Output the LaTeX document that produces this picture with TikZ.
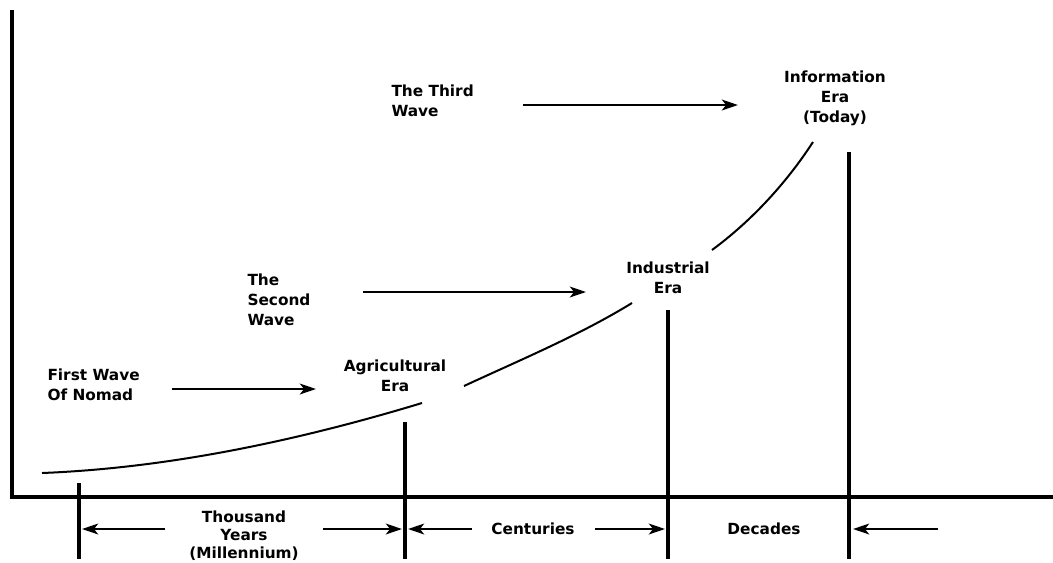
\documentclass[tikz,border=0pt]{standalone}
\usepackage{fontspec}
\setmainfont{DejaVu Sans}
\usetikzlibrary{arrows.meta}

\tikzset{every picture/.style={line width=0.75pt}}
\tikzset{
  axisline/.style={line width=2.6pt},
  tickline/.style={line width=2.3pt},
  growth/.style={line width=1.5pt},
  wavearrow/.style={line width=2pt,-{Stealth[length=12pt,width=8pt,inset=3pt]}},
  lbl/.style={font=\fontsize{11.5}{15}\selectfont\bfseries,inner sep=0pt},
  spanlbl/.style={font=\fontsize{11.5}{13.5}\selectfont\bfseries,inner sep=0pt,align=center}
}

\begin{document}
\begin{tikzpicture}[x=0.75pt,y=0.75pt,yscale=-1,xscale=1]
\useasboundingbox (0,0) rectangle (1053,562);

%Axes
\coordinate (top) at (12,10);
\coordinate (origin) at (12,497);
\coordinate (right) at (1053,497);
\draw [axisline] (top) -- (origin) -- (right) ;

%Era ticks
\coordinate (t0a) at (79,483);   \coordinate (t0b) at (79,559);
\coordinate (t1a) at (405,422);  \coordinate (t1b) at (405,559);
\coordinate (t2a) at (668,310);  \coordinate (t2b) at (668,559);
\coordinate (t3a) at (849,152);  \coordinate (t3b) at (849,559);
\draw [tickline] (t0a) -- (t0b) ;
\draw [tickline] (t1a) -- (t1b) ;
\draw [tickline] (t2a) -- (t2b) ;
\draw [tickline] (t3a) -- (t3b) ;

%Growth curve, broken at the era labels
\draw [growth] (42,473) .. controls (170,468) and (300,440) .. (422,403) ;
\draw [growth] (464,386) .. controls (520,360) and (580,335) .. (632,303) ;
\draw [growth] (712,250) .. controls (750,222) and (785,185) .. (813,142) ;

% Text Node
\node [lbl,anchor=west,align=left] (nomad) at (47,385) {First Wave\\Of Nomad};
% Text Node
\node [lbl,anchor=west,align=left] (second) at (247,300) {The\\Second\\Wave};
% Text Node
\node [lbl,anchor=west,align=left] (third) at (391,101) {The Third\\Wave};
% Text Node
\node [lbl,align=center] (agri) at (395,376) {Agricultural\\Era};
% Text Node
\node [lbl,align=center] (indus) at (668,278) {Industrial\\Era};
% Text Node
\node [lbl,align=center] (info) at (835,98) {Information\\Era\\(Today)};

%Wave arrows
\coordinate (w1a) at (172,389);  \coordinate (w1b) at (316,389);
\coordinate (w2a) at (363,292);  \coordinate (w2b) at (586,292);
\coordinate (w3a) at (523,105);  \coordinate (w3b) at (738,105);
\draw [wavearrow] (w1a) -- (w1b) ;
\draw [wavearrow] (w2a) -- (w2b) ;
\draw [wavearrow] (w3a) -- (w3b) ;

% Span labels
\node [spanlbl] (millen) at (244,536) {Thousand\\Years\\(Millennium)};
\node [spanlbl] (cent) at (533,529) {Centuries};
\node [spanlbl] (dec) at (764,529) {Decades};

%Span arrows
\coordinate (s1a) at (165,529);  \coordinate (s1b) at (82,529);
\coordinate (s2a) at (323,529);  \coordinate (s2b) at (402,529);
\coordinate (s3a) at (472,529);  \coordinate (s3b) at (408,529);
\coordinate (s4a) at (595,529);  \coordinate (s4b) at (665,529);
\coordinate (s5a) at (938,529);  \coordinate (s5b) at (853,529);
\draw [wavearrow] (s1a) -- (s1b) ;
\draw [wavearrow] (s2a) -- (s2b) ;
\draw [wavearrow] (s3a) -- (s3b) ;
\draw [wavearrow] (s4a) -- (s4b) ;
\draw [wavearrow] (s5a) -- (s5b) ;

\end{tikzpicture}
\end{document}
